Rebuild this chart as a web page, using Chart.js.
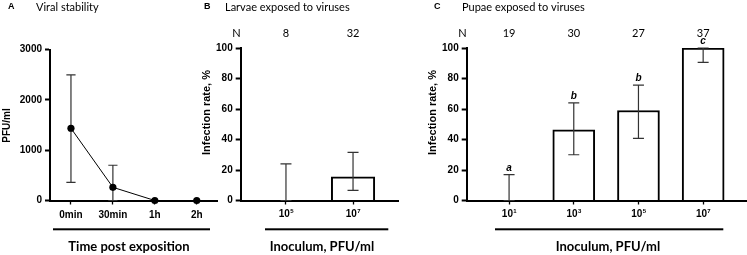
<!DOCTYPE html>
<html>
<head>
<meta charset="utf-8">
<script src="https://cdn.jsdelivr.net/npm/chart.js@4.4.0/dist/chart.umd.min.js"></script>
<style>
body { margin: 0; background: #fff; }
#wrap { position: relative; width: 747px; height: 255px; }
#wrap canvas { position: absolute; left: 0; top: 0; }
</style>
</head>
<body>
<div id="wrap">
  <canvas id="chartA" width="747" height="255"></canvas>
  <canvas id="chartB" width="747" height="255"></canvas>
  <canvas id="chartC" width="747" height="255"></canvas>
</div>
<script>
// A - viral stability (mean PFU/ml, error range)
var timeLabels = ['0min', '30min', '1h', '2h'];
var pfuMean = [1435, 262, 0, 0];
var pfuLow = [362, 0, 0, 0];
var pfuHigh = [2495, 700, 0, 0];
var pfuTicks = [0, 1000, 2000, 3000];

// B - larvae exposed to viruses (inoculum = 10^exp PFU/ml)
var larvaeExp = ['5', '7'];
var larvaeN = [8, 32];
var larvaeRate = [0, 15.6];
var larvaeLow = [0, 6.6];
var larvaeHigh = [24, 31.6];

// C - pupae exposed to viruses
var pupaeExp = ['1', '3', '5', '7'];
var pupaeN = [19, 30, 27, 37];
var pupaeRate = [0, 46.4, 59, 100];
var pupaeLow = [0, 30, 40.7, 90.6];
var pupaeHigh = [17, 64, 75.6, 100];
var pupaeLetters = ['a', 'b', 'b', 'c'];

var rateTicks = [0, 20, 40, 60, 80, 100];

var ARIAL = "'Liberation Sans', Arial, sans-serif";
var CALI = "Lato, 'Open Sans', sans-serif";

// error bars drawn with the chart scales
var errorBarPlugin = {
    id: 'errorBars',
    draw: function(chart, opts) {
        var ctx = chart.ctx, xs = chart.scales.x, ys = chart.scales.y;
        ctx.save();
        ctx.strokeStyle = opts.color;
        ctx.lineWidth = opts.width;
        opts.low.forEach(function(lo, i) {
            var hi = opts.high[i];
            if (hi === lo) return;
            var px = xs.getPixelForValue(i);
            var y1 = ys.getPixelForValue(lo), y2 = ys.getPixelForValue(hi);
            ctx.beginPath();
            ctx.moveTo(px, y1); ctx.lineTo(px, y2);
            ctx.moveTo(px - opts.cap, y1); ctx.lineTo(px + opts.cap, y1);
            ctx.moveTo(px - opts.cap, y2); ctx.lineTo(px + opts.cap, y2);
            ctx.stroke();
        });
        ctx.restore();
    },
    beforeDatasetsDraw: function(chart, args, opts) {
        if (opts.low && opts.under) this.draw(chart, opts);
    },
    afterDatasetsDraw: function(chart, args, opts) {
        if (opts.low && !opts.under) this.draw(chart, opts);
    }
};

// panel letter, title, N row, letters, axis titles, 10^x labels
var panelTextPlugin = {
    id: 'panelText',
    afterDraw: function(chart, args, o) {
        var ctx = chart.ctx, area = chart.chartArea, xs = chart.scales.x, ys = chart.scales.y;
        ctx.save();
        ctx.fillStyle = '#000';
        ctx.textBaseline = 'middle';

        ctx.textAlign = 'left';
        ctx.font = 'bold 9px ' + ARIAL;
        ctx.fillText(o.letter, o.letterX, 7);
        ctx.font = '11px ' + CALI;
        ctx.fillText(o.title, o.titleX, 7);

        // y title
        ctx.save();
        ctx.translate(o.yTitleX, o.yTitleY);
        ctx.rotate(-Math.PI / 2);
        ctx.textAlign = 'center';
        ctx.font = 'bold ' + o.yTitleSize + 'px ' + ARIAL;
        ctx.fillText(o.yTitle, 0, 0);
        ctx.restore();

        // dose labels 10^x
        if (o.exps) {
            o.exps.forEach(function(e, i) {
                var px = xs.getPixelForValue(i);
                ctx.font = 'bold 10px ' + ARIAL;
                var w1 = ctx.measureText('10').width;
                ctx.font = 'bold 6px ' + ARIAL;
                var w2 = ctx.measureText(e).width;
                var x0 = px - (w1 + w2) / 2;
                ctx.textAlign = 'left';
                ctx.font = 'bold 10px ' + ARIAL;
                ctx.fillText('10', x0, 214.5);
                ctx.font = 'bold 6px ' + ARIAL;
                ctx.fillText(e, x0 + w1 + 0.3, 211.5);
            });
        }

        // N row
        if (o.counts) {
            ctx.font = '11px ' + CALI;
            ctx.textAlign = 'right';
            ctx.fillText('N', area.left, 33);
            ctx.textAlign = 'center';
            o.counts.forEach(function(n, i) {
                ctx.fillText(String(n), xs.getPixelForValue(i), 33);
            });
        }

        // significance letters
        if (o.sig) {
            ctx.font = 'italic bold 10px ' + ARIAL;
            ctx.textAlign = 'center';
            o.sig.forEach(function(s, i) {
                ctx.fillText(s, xs.getPixelForValue(i), ys.getPixelForValue(o.sigAt[i]) - 6.5);
            });
        }

        // rule + x title
        ctx.fillRect(o.lineFrom, 228.3, o.lineTo - o.lineFrom, 2);
        ctx.font = 'bold 13px ' + CALI;
        ctx.textAlign = 'center';
        ctx.fillText(o.xTitle, o.xTitleX, 247);
        ctx.restore();
    }
};

function tickFont() {
    return { family: ARIAL, size: 10, weight: 'bold' };
}

function yAxis(max, step, ticks) {
    return {
        min: 0, max: max,
        ticks: { stepSize: step, color: '#000', font: tickFont(), padding: 3,
                 callback: function(v) { return String(v); } },
        afterBuildTicks: function(s) { s.ticks = ticks.map(function(v) { return { value: v }; }); },
        grid: { drawOnChartArea: false, tickLength: 5, tickWidth: 2, tickColor: '#000' },
        border: { color: '#000', width: 2 },
        afterFit: function(s) { s.width = 40; }
    };
}

function xLinear(count, lo, hi) {
    return {
        type: 'linear', min: lo, max: hi, offset: false,
        afterBuildTicks: function(s) {
            var t = [];
            for (var i = 0; i < count; i++) t.push({ value: i });
            s.ticks = t;
        },
        ticks: { display: false },
        grid: { offset: false, drawOnChartArea: false, tickLength: 4, tickWidth: 1.3, tickColor: '#000' },
        border: { color: '#000', width: 2 },
        afterFit: function(s) { s.height = 30; }
    };
}

var chartA = new Chart(document.getElementById('chartA'), {
    type: 'line',
    data: {
        labels: timeLabels,
        datasets: [{
            data: pfuMean,
            borderColor: '#000',
            borderWidth: 1,
            pointRadius: 3.6,
            pointBackgroundColor: '#000',
            pointBorderWidth: 0,
            tension: 0,
            clip: false
        }]
    },
    options: {
        responsive: false,
        animation: false,
        layout: { padding: { left: 10, right: 747 - 217.7, top: 49.5, bottom: 255 - 200.5 - 30 } },
        scales: {
            x: {
                type: 'category', offset: true,
                ticks: { color: '#000', font: tickFont(), padding: 5, maxRotation: 0 },
                grid: { offset: false, drawOnChartArea: false, tickLength: 4, tickWidth: 1.3, tickColor: '#000' },
                border: { color: '#000', width: 2 },
                afterFit: function(s) { s.height = 30; }
            },
            y: yAxis(3000, 1000, pfuTicks)
        },
        plugins: {
            legend: { display: false },
            tooltip: { enabled: false },
            errorBars: { low: pfuLow, high: pfuHigh, cap: 4.6, color: '#333', width: 1.2, under: true },
            panelText: {
                letter: 'A', letterX: 8, title: 'Viral stability', titleX: 36,
                yTitle: 'PFU/ml', yTitleX: 7.5, yTitleY: 125.5, yTitleSize: 10,
                lineFrom: 53, lineTo: 210, xTitle: 'Time post exposition', xTitleX: 129
            }
        }
    },
    plugins: [errorBarPlugin, panelTextPlugin]
});

var chartB = new Chart(document.getElementById('chartB'), {
    type: 'bar',
    data: {
        datasets: [{
            data: larvaeRate.map(function(v, i) { return { x: i, y: v }; }),
            backgroundColor: '#fff',
            borderColor: '#000',
            borderWidth: 2,
            borderSkipped: 'start',
            barThickness: 43.5
        }]
    },
    options: {
        responsive: false,
        animation: false,
        layout: { padding: { left: 200.7, right: 747 - 398.3, top: 48, bottom: 255 - 200.5 - 30 } },
        scales: {
            x: xLinear(larvaeExp.length, -0.675, 1.675),
            y: yAxis(100, 20, rateTicks)
        },
        plugins: {
            legend: { display: false },
            tooltip: { enabled: false },
            errorBars: { low: larvaeLow, high: larvaeHigh, cap: 5.5, color: '#333', width: 1.2 },
            panelText: {
                letter: 'B', letterX: 204, title: 'Larvae exposed to viruses', titleX: 225,
                yTitle: 'Infection rate, %', yTitleX: 206.7, yTitleY: 112.5, yTitleSize: 11,
                counts: larvaeN, exps: larvaeExp,
                lineFrom: 265, lineTo: 388.3, xTitle: 'Inoculum, PFU/ml', xTitleX: 322
            }
        }
    },
    plugins: [errorBarPlugin, panelTextPlugin]
});

var chartC = new Chart(document.getElementById('chartC'), {
    type: 'bar',
    data: {
        datasets: [{
            data: pupaeRate.map(function(v, i) { return { x: i, y: v }; }),
            backgroundColor: '#fff',
            borderColor: '#000',
            borderWidth: 2,
            borderSkipped: 'start',
            barThickness: 42
        }]
    },
    options: {
        responsive: false,
        animation: false,
        layout: { padding: { left: 426.7, right: 0.5, top: 48, bottom: 255 - 200.5 - 30 } },
        scales: {
            x: xLinear(pupaeExp.length, -0.655, 3.67),
            y: yAxis(100, 20, rateTicks)
        },
        plugins: {
            legend: { display: false },
            tooltip: { enabled: false },
            errorBars: { low: pupaeLow, high: pupaeHigh, cap: 5.5, color: '#333', width: 1.2 },
            panelText: {
                letter: 'C', letterX: 434, title: 'Pupae exposed to viruses', titleX: 462,
                yTitle: 'Infection rate, %', yTitleX: 432.5, yTitleY: 112.5, yTitleSize: 11,
                counts: pupaeN, exps: pupaeExp,
                sig: pupaeLetters, sigAt: [17, 64, 75.6, 100],
                lineFrom: 495, lineTo: 723.3, xTitle: 'Inoculum, PFU/ml', xTitleX: 608
            }
        }
    },
    plugins: [errorBarPlugin, panelTextPlugin]
});
</script>
</body>
</html>
